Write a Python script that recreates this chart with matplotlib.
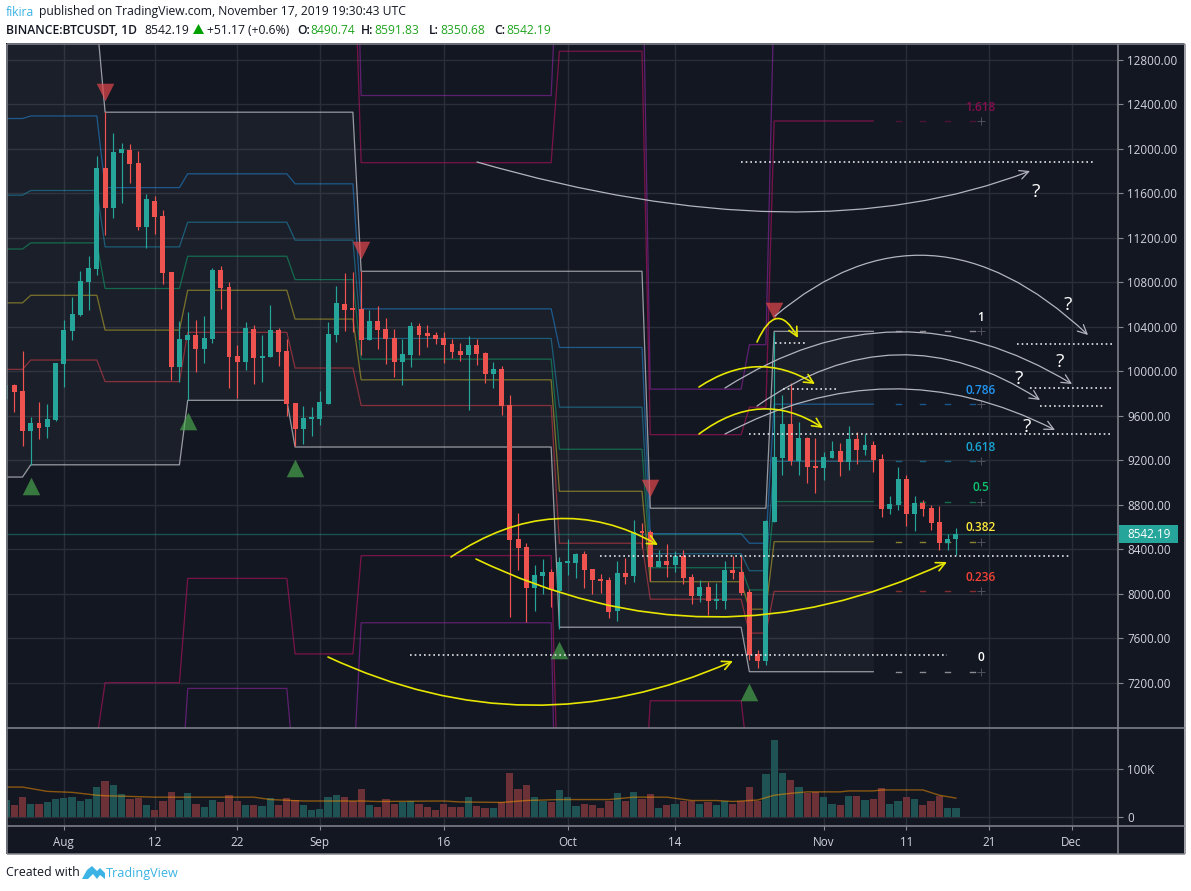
import numpy as np
import pandas as pd
import matplotlib
matplotlib.use("Agg")
import matplotlib.pyplot as plt
import matplotlib.dates as mdates
from matplotlib.patches import Rectangle, FancyArrowPatch, Polygon
from matplotlib.path import Path

plt.rcParams['font.family'] = ['Open Sans', 'DejaVu Sans']

# ---------- data ----------
start_date = "2019-07-25"
opens = [9752,9878,9824,9464,9536,9500,9563,10067,10363,10507,10804,10921,11829,11469,11963,11990,11874,11298,11532,11397,10894,10040,10282,10327,10201,10291,10912,10759,10139,10085,10381,10121,10130,10372,10184,9716,9482,9572,9572,9707,10327,10606,10561,10561,10282,10453,10381,10300,10085,10148,10408,10345,10327,10300,10246,10184,10148,10237,10166,9977,10022,9698,8493,8421,8053,8161,8197,8026,8278,8278,8359,8224,8134,8125,7846,8188,8161,8556,8556,8242,8296,8260,8341,8152,7981,8062,7936,7936,8215,8197,8017,7459,7397,8646,9222,9527,9195,9401,9150,9132,9222,9284,9186,9392,9293,9338,9213,8763,8799,9033,8718,8817,8772,8646,8457,8490.74]
highs = [9923,9887,10184,9590,9725,9707,10076,10462,10669,10903,11038,11937,12332,12143,12053,12044,11981,11595,11577,11451,10894,10453,10534,10462,10498,10930,10948,10804,10237,10444,10417,10327,10597,10390,10291,9716,9689,9680,9824,10444,10768,10885,10894,10903,10552,10588,10480,10381,10291,10444,10435,10417,10354,10354,10291,10255,10318,10291,10175,10085,10049,9788,8727,8457,8260,8314,8224,8332,8493,8368,8386,8224,8179,8152,8296,8323,8664,8637,8570,8394,8448,8386,8394,8179,8125,8107,8098,8296,8341,8341,8040,7495,8664,10354,9788,9896,9545,9410,9401,9275,9374,9356,9509,9455,9437,9374,9257,8880,9141,9069,8880,8844,8799,8790,8538,8591.83]
lows = [9725,9635,9329,9159,9392,9401,9554,9860,10282,10498,10552,10867,11226,11379,11514,11694,11271,11109,11235,10786,9923,9905,9743,9995,10076,10255,10561,9851,9761,10013,9887,9905,10130,10049,9599,9329,9347,9419,9518,9707,10264,10363,10354,10148,10282,10201,10067,9950,9878,10040,10148,10219,10246,10076,10121,10094,9653,10058,9896,9851,9608,7792,8215,7747,7846,7999,7882,7684,8170,8143,8053,7999,8008,7783,7756,8089,8107,8412,8116,8242,8152,8197,8089,7909,7927,7810,7864,7864,8134,7990,7406,7334,7361,8646,9069,9159,9069,8997,8907,9024,9222,9060,9114,9168,9248,9096,8691,8718,8754,8610,8565,8700,8574,8394,8394,8350.68]
closes = [9878,9815,9464,9536,9491,9572,10076,10372,10516,10813,10930,11829,11469,11972,11999,11865,11298,11550,11388,10885,10040,10291,10327,10201,10300,10912,10750,10130,10085,10390,10121,10139,10372,10175,9707,9482,9581,9581,9725,10336,10615,10552,10552,10282,10453,10372,10291,10085,10157,10408,10327,10318,10291,10237,10175,10148,10237,10157,9977,10022,9689,8484,8412,8053,8170,8197,8035,8287,8287,8359,8215,8125,8116,7837,8188,8152,8556,8547,8242,8296,8260,8341,8143,7981,8062,7936,7945,8215,8188,8008,7450,7397,8655,9231,9527,9195,9401,9141,9132,9231,9284,9186,9392,9293,9338,9204,8763,8808,9033,8718,8817,8763,8637,8457,8490,8542.19]
volumes = [37,26,43,28,28,31,39,41,43,33,39,64,76,68,49,39,41,26,16,33,53,37,51,28,22,37,31,47,33,26,26,24,41,26,41,37,26,16,18,43,47,43,33,58,26,22,39,28,31,33,28,22,16,28,22,22,43,24,20,20,31,93,60,68,43,33,31,56,43,24,28,26,20,35,51,35,53,39,49,20,26,28,33,35,28,31,26,33,28,33,64,33,91,162,93,78,64,51,53,43,28,26,45,45,37,39,62,28,33,43,39,26,33,45,20,20]

ma_dates = ["2019-07-25","2019-07-27","2019-07-30","2019-08-02","2019-08-05","2019-08-06","2019-08-12","2019-08-24","2019-08-26","2019-08-30","2019-09-06","2019-09-08","2019-09-16","2019-09-18","2019-09-23","2019-09-26","2019-09-30","2019-10-06","2019-10-09","2019-10-13","2019-10-16","2019-10-19","2019-10-21","2019-10-24","2019-10-26","2019-10-28","2019-10-30","2019-11-03","2019-11-04","2019-11-07","2019-11-08","2019-11-13","2019-11-15","2019-11-17"]
ma_values = [63,63,54,52,46,45,42,42,37,34,34,33,34,32,31,35,37,37,42,42,35,35,33,36,46,50,53,53,55,55,57,57,46,40]

seg_starts = ["2019-07-24","2019-07-28","2019-08-06","2019-08-16","2019-08-29","2019-09-06","2019-09-30","2019-10-11","2019-10-23","2019-10-26"]
seg_ends = ["2019-07-27","2019-08-05","2019-08-15","2019-08-28","2019-09-05","2019-09-29","2019-10-10","2019-10-22","2019-10-25","2019-11-07"]
level_upper = [13150,13150,12330,12330,12330,10900,10900,8770,8770,10360]
level_lower = [9050,9160,9160,9740,9320,9320,7700,7700,7300,7300]
level_0236 = [10018,10102,9908,10351,10030,9693,8455,7952,7647,8022]
level_0382 = [10616,10684,10371,10729,10470,9924,8922,8109,7862,8469]
level_0500 = [11100,11155,10745,11035,10825,10110,9300,8235,8035,8830]
level_0618 = [11584,11626,11119,11341,11180,10296,9678,8361,8208,9191]
level_0786 = [12273,12296,11652,11776,11686,10562,10215,8541,8455,9705]
level_1618 = [15684,15616,14289,13931,14190,11876,12878,9431,9678,12251]
level_2000 = [17250,17140,15500,14920,15340,12480,14100,9840,10240,13420]
level_n0618 = [6516,6694,7201,8139,7460,8344,5722,7039,6392,5409]
level_n1000 = [4950,5170,5990,7150,6310,7740,4500,6630,5830,4240]

peak_dates = ["2019-08-06","2019-09-06","2019-10-11","2019-10-26"]
peak_prices = [12512,11090,8952,10543]
trough_dates = ["2019-07-28","2019-08-16","2019-08-29","2019-09-30","2019-10-23"]
trough_prices = [8970,9555,9130,7495,7118]

fib_labels = ["1.618","1","0.786","0.618","0.5","0.382","0.236","0"]
fib_prices = [12251,10360,9705,9191,8830,8469,8022,7300]

price_ticks = list(range(7200, 13000, 400))
time_tick_dates = ["2019-08-01","2019-08-12","2019-08-22","2019-09-01","2019-09-16","2019-10-01","2019-10-14","2019-11-01","2019-11-11","2019-11-21","2019-12-01"]
time_tick_labels = ["Aug","12","22","Sep","16","Oct","14","Nov","11","21","Dec"]
last_price = 8542.19

# ---------- styles ----------
BG = '#131722'; GRID = '#2a2e39'; FRAME = '#85888f'; TXT = '#d1d4dc'
UP = '#26a69a'; DOWN = '#ef5350'
W, H = 1191, 891
def num(d):
    return mdates.date2num(pd.to_datetime(d))

fig = plt.figure(figsize=(W/100, H/100), dpi=100, facecolor='white')
def box(l, t, r, b, **kw):
    ax = fig.add_axes([l/W, 1-b/H, (r-l)/W, (b-t)/H], **kw)
    return ax

bg = box(0, 0, W, H, zorder=-1); bg.set_xlim(0, W); bg.set_ylim(H, 0); bg.axis('off')
bg.add_patch(Rectangle((6, 43), 1178, 811, fc=BG, ec='none'))

ax = box(7, 44, 1118, 728, zorder=1)
vx = box(7, 729, 1118, 826, zorder=1)
ov = box(0, 0, W, H, zorder=5); ov.set_xlim(0, W); ov.set_ylim(H, 0); ov.axis('off'); ov.patch.set_alpha(0)

days = pd.date_range(start_date, periods=len(closes))
xs = mdates.date2num(days)
x_aug1 = num("2019-08-01")
xlim = (x_aug1 + (7-63.8)/8.26, x_aug1 + (1118-63.8)/8.26)
o, h, l, c = map(np.array, (opens, highs, lows, closes))
cols = np.where(c >= o, UP, DOWN)

for a in (ax, vx):
    a.set_facecolor(BG); a.set_xlim(*xlim)
    for s in a.spines.values():
        s.set_visible(False)
    a.set_xticks([num(d) for d in time_tick_dates])
    a.grid(True, color=GRID, lw=1); a.set_axisbelow(True)
    a.yaxis.tick_right()
ax.set_ylim(6794, 12943)
ax.set_yticks(price_ticks); ax.set_yticklabels([f"{v:.2f}" for v in price_ticks])
ax.tick_params(axis='x', length=0, labelbottom=False)
ax.tick_params(axis='y', length=3.5, color=FRAME, labelcolor=TXT, labelsize=8.4, pad=3)
vx.set_ylim(-18.1, 184)
vx.set_yticks([0, 100]); vx.set_yticklabels(["0", "100K"])
vx.set_xticklabels(time_tick_labels)
vx.tick_params(axis='x', length=3, color=FRAME, labelcolor=TXT, labelsize=8.4, pad=4)
vx.tick_params(axis='y', length=3.5, color=FRAME, labelcolor=TXT, labelsize=8.4, pad=3)

# channel shading and level lines
sx = np.column_stack([[num(d) for d in seg_starts], [num(d) for d in seg_ends]]).ravel()
def rep(v):
    return np.repeat(v, 2)
ax.fill_between(sx, rep(level_lower), rep(level_upper), color='#ffffff', alpha=0.035, lw=0, zorder=1)
for vals, colr, al in [
    (level_2000, '#9c27b0', .55), (level_n1000, '#9c27b0', .55),
    (level_1618, '#b0125f', .65), (level_n0618, '#b0125f', .65),
    (level_0786, '#2196f3', .5), (level_0618, '#1e90b8', .55),
    (level_0500, '#0f9d68', .6), (level_0382, '#c9b82e', .55),
    (level_0236, '#f44350', .5), (level_upper, '#b8bac0', .8), (level_lower, '#b8bac0', .8)]:
    ax.plot(sx, rep(vals), color=colr, alpha=al, lw=0.9, zorder=2)

# fib extension dashes, plus marks and labels
fib_colors = ['#880e4f', '#ffffff', '#2196f3', '#1aa6d6', '#0ec66e', '#ffeb3b', '#f44336', '#ffffff']
dash_dates = ["2019-11-10","2019-11-13","2019-11-16","2019-11-19"]
lab_x = num("2019-11-20")
for lab, p, colr in zip(fib_labels, fib_prices, fib_colors):
    for d in dash_dates:
        ax.plot([num(d)-.3, num(d)+.3], [p, p], color=colr, alpha=.5, lw=1, zorder=2)
    ax.plot(lab_x, p, marker='+', ms=6, mew=.7, color='#4f525d', zorder=2)
    ax.annotate(lab, (lab_x, p), xytext=(0, 10), textcoords='offset points', ha='center', va='center',
                color=colr, fontsize=8.6, fontweight='semibold', zorder=6)

# last price line
ax.axhline(last_price, color=UP, alpha=.4, lw=1, zorder=2)

# candles
ax.vlines(xs, l, h, colors=cols, lw=0.85, zorder=3)
ax.bar(xs, np.maximum(np.abs(c-o), 18), bottom=np.minimum(o, c), width=0.6, color=cols, lw=0, zorder=4)

# signals
ax.scatter([num(d) for d in peak_dates], peak_prices, marker='v', s=160, color='#e0474c', alpha=.72, lw=0, zorder=5)
ax.scatter([num(d) for d in trough_dates], trough_prices, marker='^', s=160, color='#4caf50', alpha=.65, lw=0, zorder=5)

# volume
vx.bar(xs, volumes, width=0.88, color=np.where(c >= o, '#1f5252', '#6b3137'), lw=0, zorder=2)
vx.plot([num(d) for d in ma_dates], ma_values, color='#ff9800', alpha=.5, lw=1, zorder=3)

# frame
for (x0, y0, x1, y1) in [(6.5, 43.5, 1184.5, 43.5), (6.5, 43.5, 6.5, 854), (1184.5, 43.5, 1184.5, 854),
                         (6.5, 854, 1184.5, 854), (6.5, 728, 1184.5, 728), (6.5, 826, 1184.5, 826),
                         (1118.3, 43.5, 1118.3, 854)]:
    ov.plot([x0, x1], [y0, y1], color=FRAME, lw=1.1, solid_capstyle='butt', zorder=1)

# drawings (annotation layer)
def curve(p0, p1, p2, colr, lw):
    ov.add_patch(FancyArrowPatch(path=Path([p0, p1, p2], [Path.MOVETO, Path.CURVE3, Path.CURVE3]),
                                 arrowstyle='->,head_length=0.65,head_width=0.32', mutation_scale=10,
                                 color=colr, lw=lw, zorder=3, clip_on=False))
WHITE_CURVE, YEL = '#b2b5be', '#e6e600'
curve((477,162), (806,257), (1030,171), WHITE_CURVE, 0.9)
curve((775,316), (929,186), (1088,335), WHITE_CURVE, 0.9)
curve((725,388), (897.5,278), (1072,384), WHITE_CURVE, 0.9)
curve((757,406), (897.5,307), (1040,400), WHITE_CURVE, 0.9)
curve((725,434), (890,346), (1055,430), WHITE_CURVE, 0.9)
curve((451,557), (555.5,487), (658,545), YEL, 1.2)
curve((476,559), (712.5,673), (947,562), YEL, 1.2)
curve((328,657), (529.5,751), (733,661), YEL, 1.2)
curve((757,342), (776.5,298), (798,338), YEL, 1.2)
curve((699,387), (757,348.5), (815,384), YEL, 1.2)
curve((699,434), (761,387.5), (823,428), YEL, 1.2)

for x0, x1, y in [(741,1093,162), (1017,1112,344), (775,806,343), (1030,1112,388), (783,838,389),
                  (1040,1105,406), (749,1112,434), (600,1070,556), (410,947,655)]:
    ov.plot([x0, x1], [y, y], color='#e4e6ea', lw=1.2, ls=(0, (1, 1.8)), zorder=3)
for x, y in [(1036,192), (1068,305), (1060,362), (1019,379), (1027,427)]:
    ov.text(x, y, "?", color='white', fontsize=14, ha='center', va='center', zorder=4)

# last price tag
ov.add_patch(Rectangle((1118.5, 525), 59.5, 17.5, fc=UP, ec='none', zorder=4))
ov.text(1127, 534, f"{last_price:.2f}", color='white', fontsize=8.4, va='center', zorder=5)

# header
HDR = 8.75
GREEN = '#1fa51f'
def t(x, y, s, colr='#131722', weight='normal', size=HDR):
    bg.text(x, y, s, color=colr, fontsize=size, fontweight=weight, va='center', ha='left')
t(6, 12, "fikira", '#3bb3e4')
t(39, 12, "published on TradingView.com, November 17, 2019 19:30:43 UTC")
t(6, 30, "BINANCE:BTCUSDT, 1D", weight='semibold')
t(144, 30, "8542.19")
bg.add_patch(Polygon([(193, 34), (204, 34), (198.5, 24)], fc='#00a000', ec='none'))
t(207, 30, "+51.17 (+0.6%)")
for xl, lab, xv, val in [(297, "O:", 310, "8490.74"), (361, "H:", 374, "8591.83"),
                         (429, "L:", 440, "8350.68"), (494, "C:", 506, "8542.19")]:
    t(xl, 30, lab, weight='semibold')
    t(xv, 30, val, GREEN)

# footer
t(6, 873, "Created with", size=8.9)
bg.add_patch(Polygon([(82,879),(87,870),(92,866),(97,871),(100,868),(105,873),(105,879),(100,875),(97,879),(93,874),(88,879)],
                     fc='#3bb3e4', ec='none'))
t(106, 873, "TradingView", '#3bb3e4', size=9.1)

fig.savefig("out.png", dpi=100, facecolor='white')
